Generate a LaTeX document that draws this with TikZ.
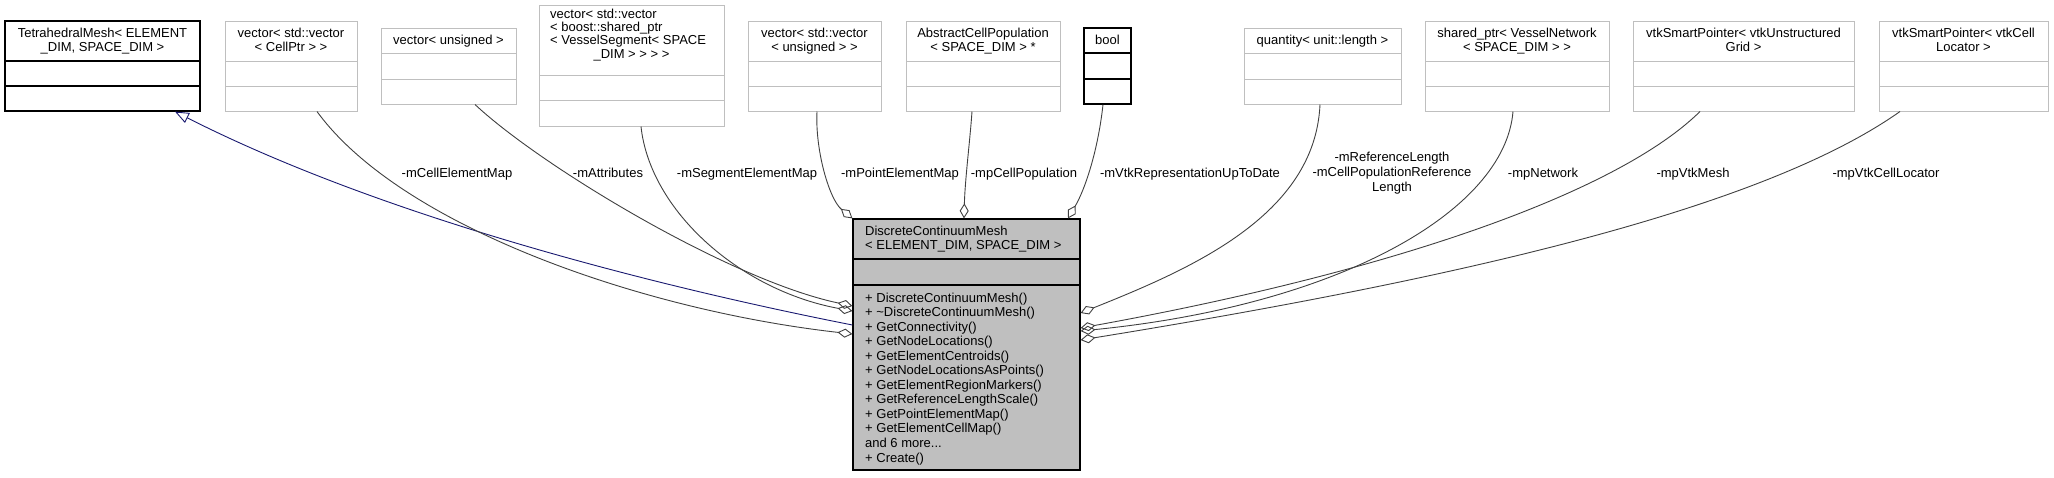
\documentclass[tikz,border=0pt]{standalone}
\usepackage{fontspec}
\setmainfont{Liberation Sans}
\usetikzlibrary{arrows.meta,fit}

\definecolor{boxgray}{HTML}{BFBFBF}
\definecolor{edgegray}{HTML}{404040}
\definecolor{inhblue}{HTML}{191970}

\begin{document}
\begin{tikzpicture}[x=1pt,y=-1pt,
  txt/.style={font=\fontsize{13}{14.5}\selectfont, inner sep=0pt, anchor=base},
  graybox/.style={draw=boxgray, line width=1pt, inner sep=0pt},
  blackbox/.style={draw=black, line width=1.2pt, inner sep=0pt},
  aggr/.style={draw=edgegray, line width=0.9pt, {Diamond[open,length=15pt,width=9pt]}-},
  inherit/.style={draw=inhblue, line width=0.9pt, -{Triangle[open,length=14pt,width=11pt]}}]

\useasboundingbox (0,0) rectangle (2054,477);

% member types, two-line header
\foreach \nm/\xa/\xb/\la/\lb in {
  cellptr/225/357/{vector< std::vector}/{< CellPtr > >},
  ptunsgn/748/881/{vector< std::vector}/{< unsigned > >},
  cellpop/906/1060/{AbstractCellPopulation}/{< SPACE\_DIM > *},
  network/1425/1609/{shared\_ptr< VesselNetwork}/{< SPACE\_DIM > >},
  vtkmesh/1633/1854/{vtkSmartPointer< vtkUnstructured}/{Grid >},
  locator/1879/2048/{vtkSmartPointer< vtkCell}/{Locator >}}
{
  \node[graybox, fit={(\xa,21) (\xb,111)}] (\nm) {};
  \draw[boxgray, line width=1pt] (\xa,61) -- (\xb,61) (\xa,86) -- (\xb,86);
  \node[txt] (\nm-a) at ({(\xa+\xb)/2},37.7) {\la};
  \node[txt] (\nm-b) at ({(\xa+\xb)/2},51.3) {\lb};
}

% member types, one-line header
\foreach \nm/\xa/\xb/\la/\st in {
  unsgn/381/516/{vector< unsigned >}/graybox,
  quantity/1244/1401/{quantity< unit::length >}/graybox,
  bool/1084/1131/{bool}/blackbox}
{
  \node[\st, fit={(\xa,28) (\xb,104)}] (\nm) {};
  \draw[\st] (\xa,53) -- (\xb,53) (\xa,79) -- (\xb,79);
  \node[txt] (\nm-a) at ({(\xa+\xb)/2},44.3) {\la};
}

% base class
\node[blackbox, fit={(5,21) (200,111)}] (tetra) {};
\draw[blackbox] (5,61) -- (200,61) (5,86) -- (200,86);
\node[txt] (tetra-a) at (102.5,37.7) {TetrahedralMesh< ELEMENT};
\node[txt] (tetra-b) at (102.5,51.3) {\_DIM, SPACE\_DIM >};

% segment map type
\node[graybox, fit={(539,5) (724,126)}] (segment) {};
\draw[boxgray, line width=1pt] (539,75) -- (724,75) (539,100) -- (724,100);
\node[txt, anchor=base west] (segment-a) at (550,18.5) {vector< std::vector};
\node[txt, anchor=base west] (segment-b) at (550,31.6) {< boost::shared\_ptr};
\node[txt, anchor=base west] (segment-c) at (550,44.8) {< VesselSegment< SPACE};
\node[txt] (segment-d) at (631.5,58) {\_DIM > > > >};

% the class itself
\node[blackbox, fill=boxgray, fit={(853,219) (1080,470)}] (main) {};
\draw[blackbox] (853,259) -- (1080,259) (853,285) -- (1080,285);
\node[txt, anchor=base west] (main-a) at (865,235.5) {DiscreteContinuumMesh};
\node[txt, anchor=base west] (main-b) at (865,249.5) {< ELEMENT\_DIM, SPACE\_DIM >};
\foreach \m [count=\i from 0] in {{+ DiscreteContinuumMesh()},
  {+ \textasciitilde{}DiscreteContinuumMesh()}, {+ GetConnectivity()},
  {+ GetNodeLocations()}, {+ GetElementCentroids()},
  {+ GetNodeLocationsAsPoints()}, {+ GetElementRegionMarkers()},
  {+ GetReferenceLengthScale()}, {+ GetPointElementMap()},
  {+ GetElementCellMap()}, {and 6 more.{}.{}.}, {+ Create()}}
  \node[txt, anchor=base west] (meth\i) at (865,{302+14.55*\i}) {\m};

% inheritance
\draw[inherit] ([yshift=19.5]main.west) .. controls +(-203,-40) and +(205,104) .. ([xshift=72.5]tetra.south);

% members
\draw[aggr] ([yshift=10.5]main.west) .. controls +(-213,-24) and +(83,114) .. ([xshift=26]cellptr.south);
\draw[aggr] ([yshift=38.5]main.west) .. controls +(-123,-26) and +(65,61) .. ([xshift=26.5]unsgn.south);
\draw[aggr] ([yshift=33.5]main.west) .. controls +(-113,-21) and +(9,84) .. ([xshift=9.5]segment.south);
\draw[aggr] (main.north west) .. controls +(-23,-19) and +(-2,39) .. ([xshift=2.5]ptunsgn.south);
\draw[aggr] ([xshift=-2.5]main.north) .. controls +(1,-39) and +(-2,29) .. ([xshift=-11]cellpop.south);
\draw[aggr] ([xshift=101.5]main.north) .. controls +(17,-29) and +(-5,46) .. ([xshift=-4.5]bool.south);
\draw[aggr] ([yshift=31.5]main.east) .. controls +(110,-44) and +(-5,111) .. ([xshift=-2.5]quantity.south);
\draw[aggr] ([yshift=13.5]main.east) .. controls +(260,-26) and +(-8,99) .. ([xshift=-4]network.south);
\draw[aggr] ([yshift=16.5]main.east) .. controls +(320,-58) and +(-80,79) .. ([xshift=-43.5]vtkmesh.south);
\draw[aggr] ([yshift=4.5]main.east) .. controls +(370,-60) and +(-140,99) .. ([xshift=-63.5]locator.south);

% member names
\node[txt] (lbl-cellelem) at (457,177) {-mCellElementMap};
\node[txt] (lbl-attr) at (608,177) {-mAttributes};
\node[txt] (lbl-segelem) at (747,177) {-mSegmentElementMap};
\node[txt] (lbl-ptelem) at (900,177) {-mPointElementMap};
\node[txt] (lbl-cellpop) at (1024,177) {-mpCellPopulation};
\node[txt] (lbl-vtkrep) at (1190,177) {-mVtkRepresentationUpToDate};
\node[txt] (lbl-reflen-a) at (1392,161.5) {-mReferenceLength};
\node[txt] (lbl-reflen-b) at (1392,176.5) {-mCellPopulationReference};
\node[txt] (lbl-reflen-c) at (1392,191) {Length};
\node[txt] (lbl-network) at (1543,177) {-mpNetwork};
\node[txt] (lbl-vtkmesh) at (1693,177) {-mpVtkMesh};
\node[txt] (lbl-locator) at (1886,177) {-mpVtkCellLocator};
\end{tikzpicture}
\end{document}
